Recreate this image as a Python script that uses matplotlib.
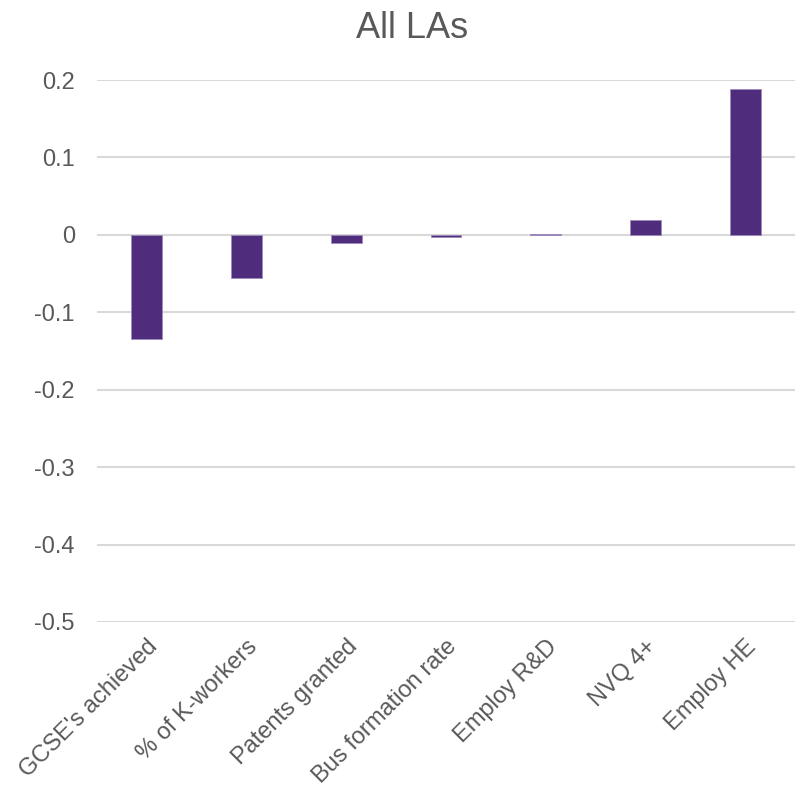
import matplotlib.pyplot as plt
import numpy as np

plt.rcParams['font.family'] = ['Liberation Sans', 'DejaVu Sans']

categories = ["GCSE's achieved", "% of K-workers", "Patents granted",
              "Bus formation rate", "Employ R&D", "NVQ 4+", "Employ HE"]
values = [-0.135, -0.0563, -0.0104, -0.003, 0.0017, 0.0195, 0.1883]

fig = plt.figure(figsize=(7.96, 7.90), dpi=100)
ax = fig.add_axes([0.1219, 0.2127, 0.8768, 0.686])

x = np.arange(len(categories))
ax.bar(x, values, width=0.31, color='#4f2c7c', edgecolor='#9d8cbd',
       linewidth=0.6, zorder=3)

ax.set_xlim(-0.5, len(categories) - 0.5)
ax.set_ylim(-0.5, 0.2)
ax.set_yticks(np.arange(-0.5, 0.21, 0.1))
ax.set_yticklabels(['-0.5', '-0.4', '-0.3', '-0.2', '-0.1', '0', '0.1', '0.2'])
ax.grid(axis='y', color='#d9d9d9', linewidth=1.5, zorder=0)
ax.set_xticks(x)
ax.set_xticklabels(categories, rotation=45, ha='right', rotation_mode='anchor')

for s in ax.spines.values():
    s.set_visible(False)
ax.tick_params(axis='both', length=0, labelsize=17, colors='#595959')
ax.tick_params(axis='y', pad=16)
ax.tick_params(axis='x', pad=10)

fig.text(412 / 796, 1 - 28 / 790, 'All LAs', ha='center', va='center',
         fontsize=26, color='#595959')

fig.savefig('out.png', dpi=100, facecolor='white')
